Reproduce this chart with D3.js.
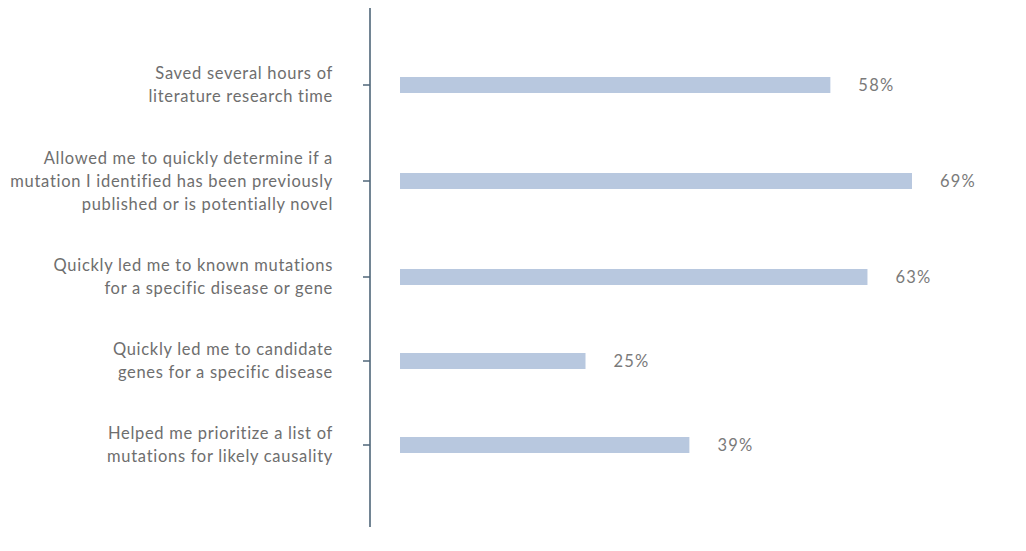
<!DOCTYPE html>
<html>
<head>
<meta charset="utf-8">
<script src="https://cdn.jsdelivr.net/npm/d3@7"></script>
<style>
  body { margin: 0; background: #fff; }
  svg { display: block; }
</style>
</head>
<body>
<svg id="chart" width="1026" height="551"></svg>
<script>
// data
var labels = [
  ["Saved several hours of", "literature research time"],
  ["Allowed me to quickly determine if a", "mutation I identified has been previously", "published or is potentially novel"],
  ["Quickly led me to known mutations", "for a specific disease or gene"],
  ["Quickly led me to candidate", "genes for a specific disease"],
  ["Helped me prioritize a list of", "mutations for likely causality"]
];
var values = [58, 69, 63, 25, 39];

var svg = d3.select("#chart");

// each row gets (lines + 1.5) units of height
var units = labels.map(l => l.length + 1.5);
var starts = [];
var acc = 0;
units.forEach(u => { starts.push(acc + u / 2); acc += u; });

var y = d3.scaleLinear().domain([0, acc]).range([43, 487]);
var x = d3.scaleLinear().domain([0, 100]).range([400, 1142]);

var axisX = 370;
var barH = 16;
var lineH = 23;

// axis line
svg.append("line")
  .attr("x1", axisX).attr("x2", axisX)
  .attr("y1", 8).attr("y2", 527)
  .attr("stroke", "#4f6679")
  .attr("stroke-width", 1.6);

var rows = svg.selectAll("g.row")
  .data(values)
  .enter().append("g")
  .attr("class", "row");

// ticks
rows.append("line")
  .attr("x1", axisX - 7).attr("x2", axisX)
  .attr("y1", (d, i) => y(starts[i]))
  .attr("y2", (d, i) => y(starts[i]))
  .attr("stroke", "#4f6679")
  .attr("stroke-width", 1.5);

// bars
rows.append("rect")
  .attr("x", x(0))
  .attr("y", (d, i) => y(starts[i]) - barH / 2)
  .attr("width", d => x(d) - x(0))
  .attr("height", barH)
  .attr("fill", "#b8c8df");

// value labels
rows.append("text")
  .attr("x", d => x(d) + 28)
  .attr("y", (d, i) => y(starts[i]))
  .attr("dy", "0.35em")
  .attr("font-family", "Lato, 'Open Sans', sans-serif")
  .attr("font-size", 16.5)
  .attr("letter-spacing", 1.2)
  .attr("fill", "#7a7a7a")
  .text(d => d + "%");

// category labels
rows.append("text")
  .attr("text-anchor", "end")
  .attr("font-family", "Lato, 'Open Sans', sans-serif")
  .attr("font-size", 16.5)
  .attr("letter-spacing", 0.7)
  .attr("fill", "#6e6e6e")
  .each(function(d, i) {
    var t = d3.select(this);
    var n = labels[i].length;
    labels[i].forEach((s, k) => {
      t.append("tspan")
        .attr("x", 333)
        .attr("y", y(starts[i]) + (k - (n - 1) / 2) * lineH)
        .attr("dy", "0.35em")
        .text(s);
    });
  });
</script>
</body>
</html>
